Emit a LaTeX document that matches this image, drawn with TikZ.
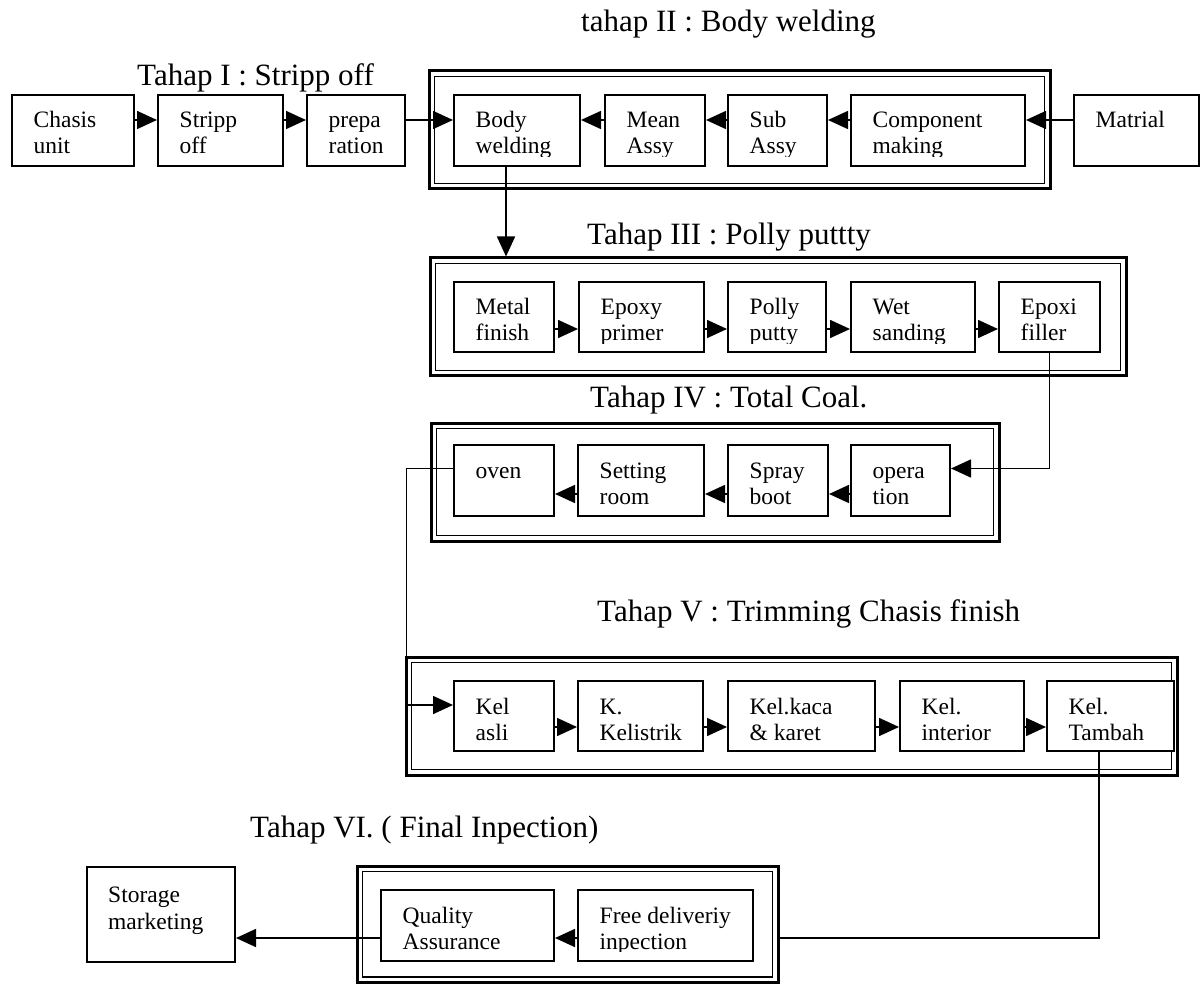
\documentclass[tikz,border=0pt]{standalone}
\usepackage{fontspec}
\setmainfont{Liberation Serif}
\usetikzlibrary{arrows.meta}
\tikzset{
  bx/.style={draw, rectangle, line width=2pt, fill=white, inner sep=0pt},
  btxt/.style={inner sep=0pt, font=\fontsize{23.5}{26}\selectfont, anchor=base west},
  lbl/.style={inner sep=0pt, font=\fontsize{31}{36}\selectfont, anchor=base west},
  frout/.style={draw, rectangle, line width=3pt, inner sep=0pt},
  frin/.style={draw, rectangle, line width=1.8pt, inner sep=0pt},
  arr/.style={line width=1.6pt, -{Triangle[length=20pt,width=18pt]}},
  ln/.style={line width=1.6pt},
}
% name, x1, y1, x2, y2, text  (text clipped below second line like the original)
\newcommand\procbox[6]{%
  \node[bx, minimum width={(#4-#2)*1pt}, minimum height={(#5-#3)*1pt}] (#1) at ({(#2+#4)/2},{(#3+#5)/2}) {};
  \begin{scope}
    \clip (#2,#3) rectangle (#4,{#3+61.5});
    \node[btxt] (#1-t) at ({#2+21.5},{#3+33}) {\parbox[t]{300pt}{#6}};
  \end{scope}
}
% name, x1, y1, x2, y2
\newcommand\stagebox[5]{%
  \node[frout, minimum width={(#4-#2)*1pt}, minimum height={(#5-#3)*1pt}] (#1) at ({(#2+#4)/2},{(#3+#5)/2}) {};
  \node[frin, minimum width={(#4-#2-11)*1pt}, minimum height={(#5-#3-11)*1pt}] (#1-in) at (#1.center) {};
}
\begin{document}
\begin{tikzpicture}[x=1pt, y=-1pt]
\useasboundingbox (0,0) rectangle (1200,984);

% stage frames
\stagebox{frII}{429}{71}{1050}{189}
\stagebox{frIII}{430}{258}{1126}{376}
\stagebox{frIV}{431}{423}{999}{541}
\stagebox{frV}{406}{657}{1177}{775}
\stagebox{frVI}{357}{866}{778}{982.5}

% stage titles
\node[lbl] (tII) at (581,32) {tahap II : Body welding};
\node[lbl] (tI) at (137,86) {Tahap I : Stripp off};
\node[lbl] (tIII) at (587,245) {Tahap III : Polly puttty};
\node[lbl] (tIV) at (590,407) {Tahap IV : Total Coal.};
\node[lbl] (tV) at (597,621) {Tahap V : Trimming Chasis finish};
\node[lbl] (tVI) at (250,837) {Tahap VI. ( Final Inpection)};

% row 1
\procbox{chasis}{12}{95}{134}{166}{Chasis\\unit}
\procbox{stripp}{158}{95}{283}{166}{Stripp\\off}
\procbox{prep}{307}{95}{405}{166}{prepa\\ration}
\procbox{body}{454}{95}{580}{166}{Body\\welding}
\procbox{mean}{605}{95}{705}{166}{Mean\\Assy}
\procbox{sub}{728}{95}{827}{166}{Sub\\Assy}
\procbox{comp}{851}{95}{1025}{166}{Component\\making}
\procbox{matrial}{1074}{95}{1199}{166}{Matrial}

% row 2
\procbox{metal}{454}{282}{554}{352}{Metal\\finish}
\procbox{epoxy}{579}{282}{704}{352}{Epoxy\\primer}
\procbox{polly}{728}{282}{826}{352}{Polly\\putty}
\procbox{wet}{851}{282}{975}{352}{Wet\\sanding}
\procbox{epoxi}{999}{282}{1100}{352}{Epoxi\\filler}

% row 3
\procbox{oven}{454}{445}{554}{516}{oven}
\procbox{setting}{578}{445}{704}{516}{Setting\\room}
\procbox{spray}{728}{445}{828}{516}{Spray\\boot}
\procbox{operation}{851}{445}{950}{516}{opera\\tion}

% row 4
\procbox{kelasli}{454}{681}{554}{751}{Kel\\asli}
\procbox{kelistrik}{578}{681}{703}{751}{K.\\Kelistrik}
\procbox{kaca}{728}{681}{875}{751}{Kel.kaca\\\& karet}
\procbox{interior}{900}{681}{1024}{751}{Kel.\\interior}
\procbox{tambah}{1047}{681}{1174}{751}{Kel.\\Tambah}

% row 5
\procbox{qa}{381}{890}{554}{961}{Quality\\Assurance}
\procbox{free}{578}{890}{753}{961}{Free deliveriy\\inpection}
\node[bx, minimum width=148pt, minimum height=95pt] (storage) at (161,914.5) {};
\node[btxt] (storage-t) at (108,902) {\parbox[t]{200pt}{Storage\\[1pt]marketing}};

% connector levels
\coordinate (r1) at (0,120);
\coordinate (r2) at (0,329);
\coordinate (r3) at (0,494);
\coordinate (r3a) at (0,468.5);
\coordinate (r4) at (0,727);
\coordinate (r4a) at (0,705);
\coordinate (r5) at (0,938);
\coordinate (cb) at (506,0);
\coordinate (cl) at (406.5,0);
\coordinate (ct) at (1099,0);

% row 1 connectors
\draw[arr] (chasis.east |- r1) -- (stripp.west |- r1);
\draw[arr] (stripp.east |- r1) -- (prep.west |- r1);
\draw[arr] (prep.east |- r1) -- (body.west |- r1);
\draw[arr] (matrial.west |- r1) -- (comp.east |- r1);
\draw[arr] (comp.west |- r1) -- (sub.east |- r1);
\draw[arr] (sub.west |- r1) -- (mean.east |- r1);
\draw[arr] (mean.west |- r1) -- (body.east |- r1);
\draw[arr] (body.south -| cb) -- (frIII.north -| cb);

% row 2 connectors
\draw[arr] (metal.east |- r2) -- (epoxy.west |- r2);
\draw[arr] (epoxy.east |- r2) -- (polly.west |- r2);
\draw[arr] (polly.east |- r2) -- (wet.west |- r2);
\draw[arr] (wet.east |- r2) -- (epoxi.west |- r2);
\draw[arr] (epoxi.south) |- (operation.east |- r3a);

% row 3 connectors
\draw[arr] (operation.west |- r3) -- (spray.east |- r3);
\draw[arr] (spray.west |- r3) -- (setting.east |- r3);
\draw[arr] (setting.west |- r3) -- (oven.east |- r3);
\draw[arr] (oven.west |- r3a) -- (cl |- r3a) -- (cl |- r4a) -- (kelasli.west |- r4a);

% row 4 connectors
\draw[arr] (kelasli.east |- r4) -- (kelistrik.west |- r4);
\draw[arr] (kelistrik.east |- r4) -- (kaca.west |- r4);
\draw[arr] (kaca.east |- r4) -- (interior.west |- r4);
\draw[arr] (interior.east |- r4) -- (tambah.west |- r4);
\draw[ln] (tambah.south -| ct) -- (ct |- r5) -- (frVI.east |- r5);

% row 5 connectors
\draw[arr] (free.west |- r5) -- (qa.east |- r5);
\draw[arr] (qa.west |- r5) -- (storage.east |- r5);
\end{tikzpicture}
\end{document}
